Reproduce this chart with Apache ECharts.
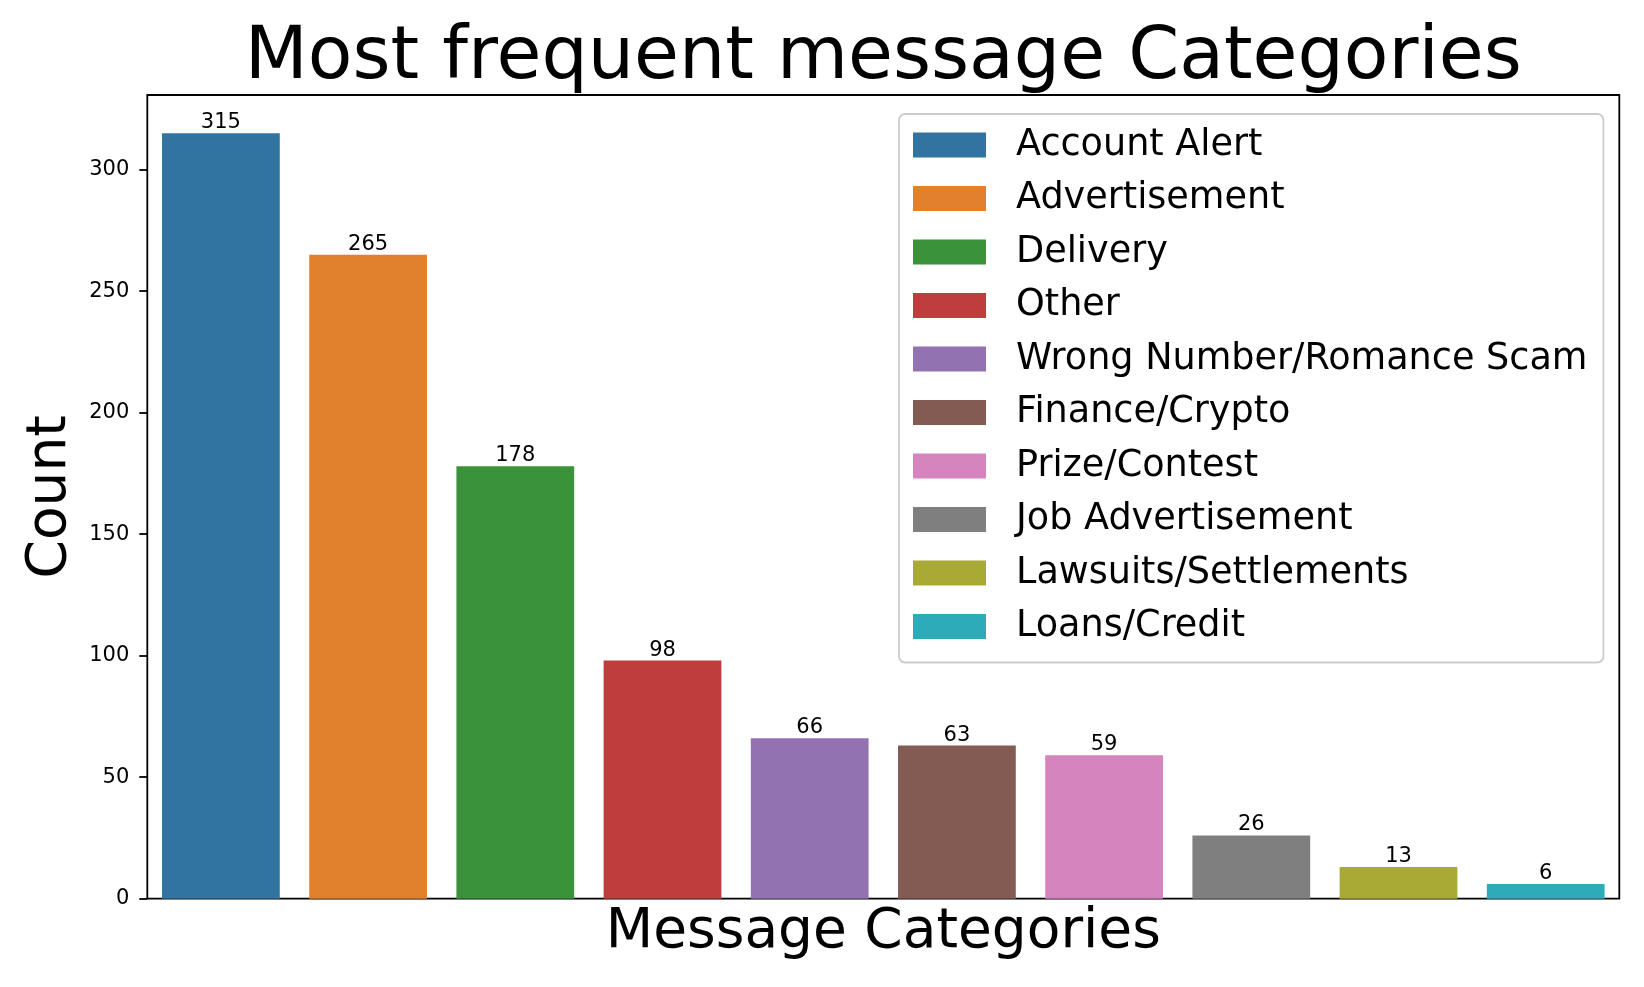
<!DOCTYPE html>
<html>
<head>
<meta charset="utf-8">
<script src="https://cdn.jsdelivr.net/npm/echarts@6/dist/echarts.min.js"></script>
<style>
  html, body { margin: 0; padding: 0; background: #fff; }
  #main { width: 1644px; height: 987px; }
</style>
</head>
<body>
<div id="main"></div>
<script>
// 数据
var categories = ['Account Alert', 'Advertisement', 'Delivery', 'Other', 'Wrong Number/Romance Scam',
  'Finance/Crypto', 'Prize/Contest', 'Job Advertisement', 'Lawsuits/Settlements', 'Loans/Credit'];
var counts = [315, 265, 178, 98, 66, 63, 59, 26, 13, 6];
var colors = ['#3274a1', '#e1812c', '#3a923a', '#c03d3e', '#9372b2',
  '#845b53', '#d684bd', '#7f7f7f', '#a9aa35', '#2eabb8'];
var yTicks = [0, 50, 100, 150, 200, 250, 300];

var FONT = 'DejaVu Sans';
var myChart = echarts.init(document.getElementById('main'));

// 每个类别一个系列, 这样图例能列出全部类别
var series = categories.map(function (name, i) {
  var data = categories.map(function (c, j) { return j === i ? counts[i] : '-'; });
  return {
    name: name,
    type: 'bar',
    stack: 'all',
    barWidth: '80%',
    data: data,
    itemStyle: { color: colors[i] },
    label: {
      show: true,
      position: 'top',
      distance: 0,
      fontFamily: FONT,
      fontSize: 21,
      color: '#000'
    }
  };
});

var option = {
  animation: false,
  backgroundColor: '#fff',
  grid: {
    left: 147.3, right: 24.7, top: 95, bottom: 88.3,
    show: true, borderColor: '#000', borderWidth: 1.8, backgroundColor: 'transparent'
  },
  graphic: [{
    type: 'text',
    x: 883.3, y: 59,
    style: {
      text: 'Most frequent message Categories',
      fontFamily: FONT, fontSize: 73, fill: '#000',
      align: 'center', verticalAlign: 'middle'
    }
  }],
  legend: {
    data: categories,
    orient: 'vertical',
    left: 899, top: 114,
    padding: [12.5, 16, 17.5, 14],
    itemWidth: 73, itemHeight: 25, itemGap: 16.5,
    icon: 'rect',
    borderColor: '#cccccc', borderWidth: 1.8, borderRadius: 6,
    backgroundColor: '#fff',
    textStyle: {
      fontFamily: FONT, fontSize: 36.6, lineHeight: 27, color: '#000',
      padding: [9, 0, 0, 25]
    }
  },
  xAxis: {
    type: 'category',
    data: categories,
    name: 'Message Categories',
    nameLocation: 'middle',
    nameGap: 7,
    nameTextStyle: { fontFamily: FONT, fontSize: 55, color: '#000', verticalAlign: 'top' },
    axisLine: { show: false },
    axisTick: { show: false },
    axisLabel: { show: false },
    splitLine: { show: false }
  },
  yAxis: {
    type: 'value',
    min: 0, max: 330.75, interval: 50,
    name: 'Count',
    nameLocation: 'middle',
    nameGap: 67,
    nameTextStyle: { fontFamily: FONT, fontSize: 55, color: '#000' },
    axisLine: { show: false },
    axisTick: { show: true, length: 8, lineStyle: { color: '#000', width: 1.8 }, customValues: yTicks },
    axisLabel: { fontFamily: FONT, fontSize: 21, color: '#000', margin: 18, padding: [3, 0, 0, 0], customValues: yTicks },
    splitLine: { show: false }
  },
  series: series
};

myChart.setOption(option);
</script>
</body>
</html>
